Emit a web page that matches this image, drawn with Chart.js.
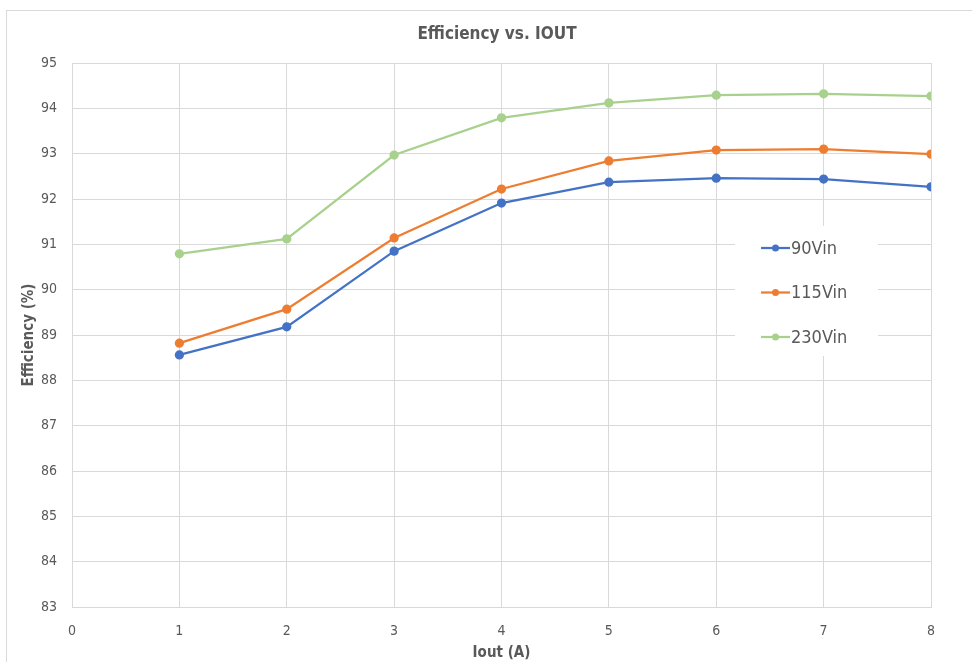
<!DOCTYPE html>
<html><head><meta charset="utf-8">
<script src="https://cdn.jsdelivr.net/npm/chart.js@4/dist/chart.umd.min.js"></script>
<style>html,body{margin:0;padding:0;background:#fff}#wrap{width:972px;height:662px}</style>
</head><body><div id="wrap"><canvas id="c" width="972" height="662"></canvas></div>
<script>
const iout = [1, 2, 3, 4, 5, 6, 7, 8];
const eff90 = [88.56, 89.18, 90.85, 91.91, 92.37, 92.46, 92.44, 92.27];
const eff115 = [88.82, 89.57, 91.14, 92.22, 92.84, 93.08, 93.10, 92.99];
const eff230 = [90.79, 91.12, 92.97, 93.79, 94.12, 94.29, 94.32, 94.27];
const seriesNames = ['90Vin', '115Vin', '230Vin'];
const seriesColors = ['#4472C4', '#ED7D31', '#A9D18E'];
const chartTitle = 'Efficiency vs. IOUT';
const FONT = "'Liberation Sans Narrow','DejaVu Sans Condensed','Open Sans',sans-serif";
const GRAY = '#595959';

function pts(arr){ return iout.map((x,i)=>({x:x,y:arr[i]})); }

const borderPlugin = {
  id:'outerBorder',
  beforeDraw(chart){
    const ctx = chart.ctx;
    ctx.save();
    ctx.fillStyle='#fff'; ctx.fillRect(0,0,chart.width,chart.height);
    ctx.strokeStyle='#d9d9d9'; ctx.lineWidth=1;
    ctx.strokeRect(6.5,10.5,1000,700);
    ctx.fillStyle=GRAY; ctx.font="bold 17px "+FONT;
    ctx.textAlign='center'; ctx.textBaseline='middle';
    ctx.fillText(chartTitle, 497, 35);
    ctx.restore();
  }
};
const legendPlugin = {
  id:'insideLegend',
  afterDatasetsDraw(chart){
    const ctx = chart.ctx;
    ctx.save();
    ctx.fillStyle='#fff';
    ctx.fillRect(735,226,143,130);
    chart.data.datasets.forEach((ds,i)=>{
      const y = 248 + i*44.5;
      ctx.strokeStyle = ds.borderColor; ctx.lineWidth = 2.25;
      ctx.beginPath(); ctx.moveTo(761,y); ctx.lineTo(790,y); ctx.stroke();
      ctx.fillStyle = ds.borderColor;
      ctx.beginPath(); ctx.arc(775.5,y,3.5,0,Math.PI*2); ctx.fill();
      ctx.fillStyle = GRAY; ctx.font = "18px " + FONT;
      ctx.textBaseline='middle'; ctx.textAlign='left';
      ctx.fillText(ds.label, 791, y+1);
    });
    ctx.restore();
  }
};

new Chart(document.getElementById('c'), {
  type:'line',
  data:{ datasets:[eff90,eff115,eff230].map((arr,i)=>({
    label:seriesNames[i], data:pts(arr), borderColor:seriesColors[i], backgroundColor:seriesColors[i],
    borderWidth:2.25, pointRadius:3.5, pointHoverRadius:3.5, tension:0, fill:false
  }))},
  options:{
    responsive:false, animation:false, devicePixelRatio:1,
    layout:{padding:{left:0,right:41,top:63,bottom:0}},
    plugins:{ legend:{display:false}, tooltip:{enabled:false}, title:{display:false} },
    scales:{
      x:{type:'linear', min:0, max:8,
        ticks:{stepSize:1, color:GRAY, font:{family:FONT,size:14}, padding:16},
        grid:{color:'#d9d9d9', drawTicks:false},
        border:{color:'#d9d9d9'},
        title:{display:true, text:'Iout (A)', color:GRAY, font:{family:FONT,size:15,weight:'bold'}, padding:{top:6,bottom:0}},
        afterFit(s){ s.height = 55; }
      },
      y:{min:83, max:95,
        ticks:{stepSize:1, color:GRAY, font:{family:FONT,size:14}, padding:15},
        grid:{color:'#d9d9d9', drawTicks:false},
        border:{display:false},
        title:{display:true, text:'Efficiency (%)', color:GRAY, font:{family:FONT,size:15,weight:'bold'}, padding:{top:20,bottom:4}},
        afterFit(s){ s.width = 72; }
      }
    }
  },
  plugins:[borderPlugin, legendPlugin]
});
</script></body></html>
